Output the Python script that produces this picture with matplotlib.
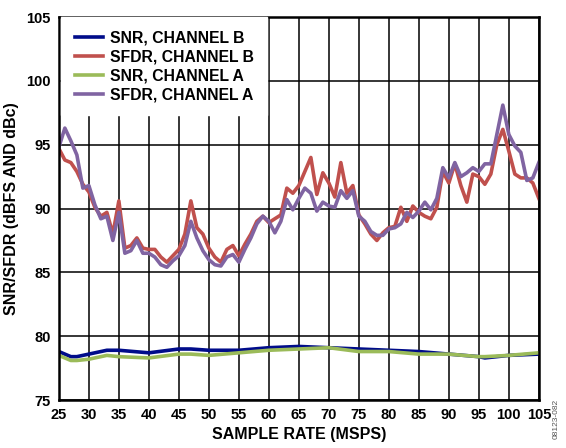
import matplotlib
matplotlib.use('Agg')
import matplotlib.pyplot as plt

# sample rate (MSPS)
rate = list(range(25, 106))

# SFDR, channel B (dBc)
sfdr_b = [94.7, 93.8, 93.6, 92.9, 91.9, 91.3, 90.1, 89.4, 89.7, 88.0,
          90.6, 86.9, 87.1, 87.7, 86.9, 86.8, 86.8, 86.2, 85.8, 86.3,
          86.8, 88.0, 90.6, 88.5, 88.0, 86.9, 86.2, 85.8, 86.8, 87.1,
          86.3, 87.2, 88.0, 89.0, 89.4, 88.9, 89.2, 89.5, 91.6, 91.2,
          91.8, 92.9, 94.0, 91.1, 92.8, 92.0, 90.9, 93.6, 91.2, 91.8,
          89.5, 88.8, 88.0, 87.5, 88.1, 88.5, 88.6, 90.1, 89.0, 90.2,
          89.7, 89.4, 89.2, 90.1, 92.9, 92.0, 93.5, 91.8, 90.5, 92.7,
          92.5, 91.9, 92.7, 95.0, 96.2, 94.5, 92.7, 92.4, 92.4, 92.0,
          90.8]

# SFDR, channel A (dBc)
sfdr_a = [94.8, 96.3, 95.3, 94.2, 91.6, 91.8, 90.3, 89.2, 89.4, 87.5,
          89.7, 86.5, 86.7, 87.5, 86.5, 86.5, 86.2, 85.6, 85.4, 85.9,
          86.3, 87.1, 89.0, 87.7, 86.7, 86.0, 85.6, 85.5, 86.2, 86.4,
          85.8, 86.8, 87.7, 88.8, 89.4, 89.0, 88.1, 89.0, 90.7, 89.9,
          90.8, 91.6, 91.2, 89.8, 90.5, 90.2, 90.1, 91.4, 90.8, 91.4,
          89.4, 89.0, 88.2, 87.9, 87.9, 88.4, 88.5, 88.8, 89.7, 89.3,
          89.8, 90.5, 89.9, 90.8, 93.2, 92.4, 93.6, 92.5, 92.8, 93.2,
          92.9, 93.5, 93.5, 95.8, 98.1, 95.8, 94.9, 94.4, 92.2, 92.4,
          93.6]

# SNR, channel B (dBFS)
snr_rate = [25, 27, 28, 30, 33, 35, 40, 45, 47, 50, 55, 60, 65, 70, 75,
            80, 85, 90, 95, 96, 100, 105]
snr_b = [78.8, 78.4, 78.4, 78.6, 78.9, 78.9, 78.7, 79.0, 79.0, 78.9, 78.9,
         79.1, 79.2, 79.1, 79.0, 78.9, 78.8, 78.6, 78.4, 78.3, 78.5, 78.6]
# SNR, channel A (dBFS)
snr_a = [78.5, 78.1, 78.1, 78.2, 78.5, 78.4, 78.3, 78.6, 78.6, 78.5, 78.7,
         78.9, 79.0, 79.1, 78.8, 78.8, 78.6, 78.6, 78.4, 78.4, 78.5, 78.7]

fonts = ['Liberation Sans', 'DejaVu Sans']

fig = plt.figure(figsize=(5.66, 4.48), dpi=100)
ax = fig.add_axes([0.104, 0.107, 0.848, 0.855])

ax.plot(snr_rate, snr_b, color='#000c8a', lw=2.6, label='SNR, CHANNEL B')
ax.plot(rate, sfdr_b, color='#c0504d', lw=2.6, label='SFDR, CHANNEL B')
ax.plot(snr_rate, snr_a, color='#9bbb59', lw=2.6, label='SNR, CHANNEL A')
ax.plot(rate, sfdr_a, color='#8064a2', lw=2.6, label='SFDR, CHANNEL A')

ax.set_xlim(25, 105)
ax.set_ylim(75, 105)
ax.set_xticks(range(25, 106, 5))
ax.set_yticks(range(75, 106, 5))
ax.grid(True, color='black', lw=1.1)
ax.tick_params(length=0, pad=6)
for lbl in ax.get_xticklabels() + ax.get_yticklabels():
    lbl.set_fontfamily(fonts)
    lbl.set_fontweight('bold')
    lbl.set_fontsize(10.5)
for s in ax.spines.values():
    s.set_linewidth(1.8)

ax.set_xlabel('SAMPLE RATE (MSPS)', fontsize=11.5, fontweight='bold',
              family=fonts, labelpad=3)
ax.set_ylabel('SNR/SFDR (dBFS AND dBc)', fontsize=11.5, fontweight='bold',
              family=fonts, labelpad=5)

leg = ax.legend(loc='upper left', bbox_to_anchor=(0.005, 1.0),
                frameon=True, fancybox=False,
                edgecolor='white', facecolor='white', framealpha=1,
                handlelength=1.8, handletextpad=0.45, labelspacing=0.25,
                borderpad=0.85, borderaxespad=0,
                prop={'family': fonts, 'weight': 'bold', 'size': 11.3})

fig.text(0.982, 0.02, '08123-082', rotation=90, fontsize=6, color='#555555',
         family=fonts, ha='center', va='bottom')

fig.savefig('out.png', dpi=100)
